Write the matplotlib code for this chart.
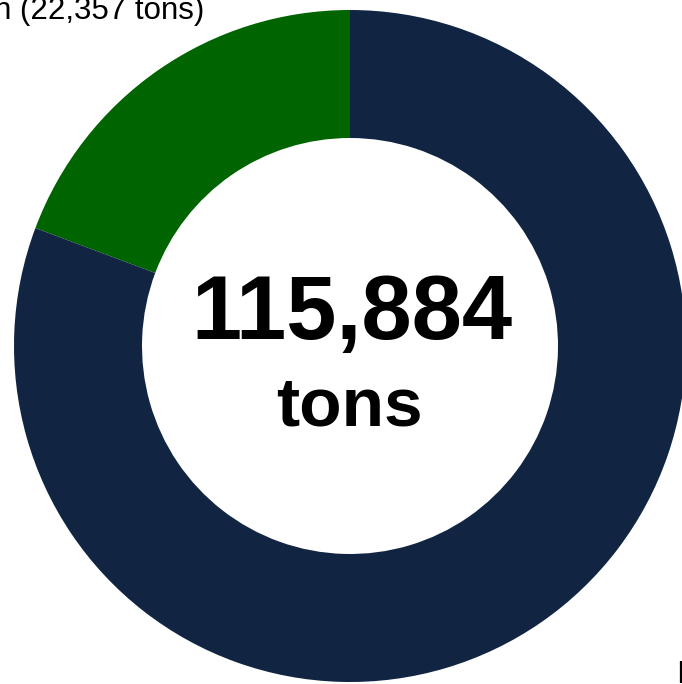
import matplotlib.pyplot as plt

plt.rcParams['font.family'] = ['Liberation Sans', 'DejaVu Sans']

labels = ['Caribbean', 'Imports']
tons = [22357, 93527]
colors = ['#006400', '#112542']
total = sum(tons)

fig = plt.figure(figsize=(6.82, 6.84), dpi=100)
ax = fig.add_axes([0, 0, 1, 1])

cx, cy = 350, 684 - 346
ax.pie(tons, colors=colors, startangle=90, counterclock=True,
       center=(cx, cy), radius=336, frame=True,
       wedgeprops=dict(width=128, linewidth=0))
ax.set_xlim(0, 682)
ax.set_ylim(0, 684)
ax.set_aspect('equal')
ax.axis('off')

ax.text(352, 684 - 339, f'{total:,}', ha='center', va='baseline',
        fontsize=65, fontweight='bold', color='black')
ax.text(349, 684 - 425, 'tons', ha='center', va='baseline',
        fontsize=50, fontweight='bold', color='black')

# slice labels (partly outside the canvas)
ax.text(204, 684 - 19, f'{labels[0]} ({tons[0]:,} tons)', ha='right',
        va='baseline', fontsize=22.5, color='black')
ax.text(677, 684 - 683, f'{labels[1]} ({tons[1]:,} tons)', ha='left',
        va='baseline', fontsize=22.5, color='black')

plt.savefig('out.png', dpi=100)
